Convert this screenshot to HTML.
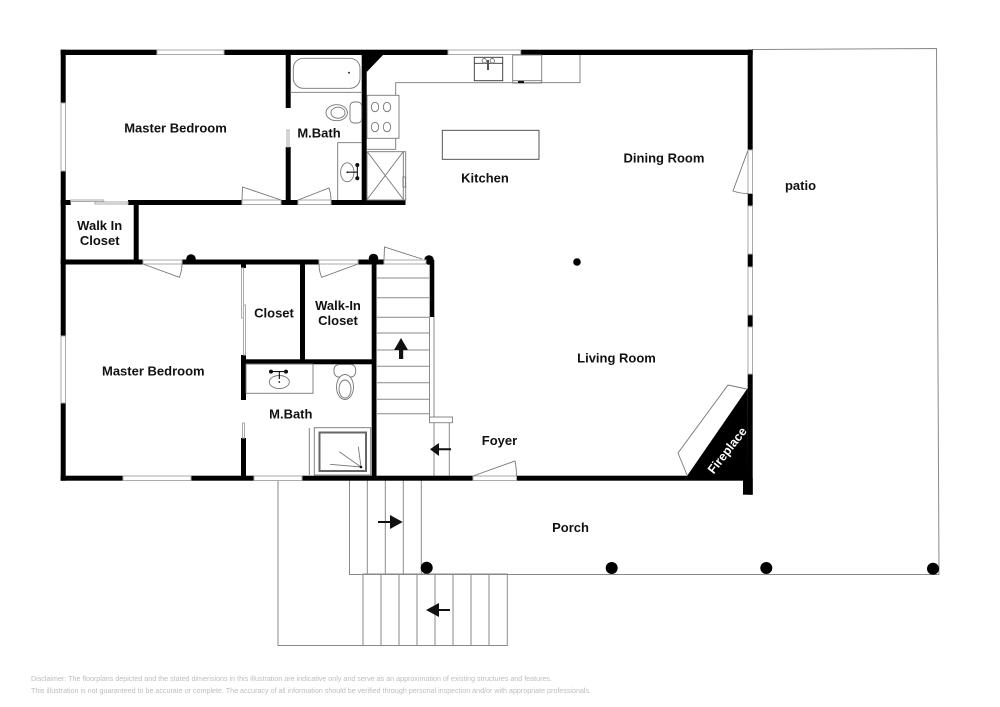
<!DOCTYPE html>
<html><head><meta charset="utf-8"><style>
html,body{margin:0;padding:0;background:#fff;width:1000px;height:707px;overflow:hidden}
svg{display:block}
text{font-family:"Liberation Sans",Arial,sans-serif}
.l text{font-weight:bold;font-size:13px;fill:#111;text-anchor:middle}
.t{fill:none;stroke:#777;stroke-width:.9}
.g{fill:none;stroke:#8a8a8a;stroke-width:1}
.w{fill:#fff;stroke:#aaa;stroke-width:1}
</style></head><body>
<svg width="1000" height="707" viewBox="0 0 1000 707" xmlns="http://www.w3.org/2000/svg">
<rect width="1000" height="707" fill="#fff"/>
<!-- exterior lines -->
<g class="g">
<path d="M752 49.5L936.5 48.5L939 574.5H349.5V480"/>
<path d="M367.3 480V574M385.3 480V574M403.3 480V574M421.3 480V574"/>
<path d="M278 480V645.5H507.3V574H363V645.5M381 574V645.5M399 574V645.5M417 574V645.5M435 574V645.5M453 574V645.5M471 574V645.5M489 574V645.5"/>
<path d="M377 278H429M377 297.7H429M377 317.3H429M377 333H429M377 350H429M377 366.3H429M377 382.7H429M377 399.3H429M377 413.7H429"/>
<path d="M429.5 317V417M434 317V417M434 423V476M449.3 423V476"/>
<rect x="429.5" y="417" width="23" height="5.7" fill="#fff"/>
</g>
<!-- walls -->
<g fill="#000">
<rect x="60.7" y="49.7" width="692" height="5.3"/>
<rect x="60.7" y="49.7" width="5" height="431"/>
<rect x="747.7" y="49.7" width="5" height="100.5"/>
<rect x="747.7" y="193.5" width="5" height="12.5"/>
<rect x="747.7" y="254" width="5" height="13"/>
<rect x="747.7" y="315" width="5" height="12"/>
<rect x="747.7" y="374" width="5" height="120.7"/>
<rect x="743" y="478" width="9.7" height="16.7"/>
<rect x="60.7" y="475.7" width="690" height="5"/>
<path d="M747.7 388L687 476H748Z"/>
<rect x="285.7" y="52" width="5" height="56"/>
<rect x="285.7" y="147" width="5" height="56"/>
<rect x="361.7" y="52" width="5" height="153"/>
<path d="M366 55H383L366.7 72Z"/>
<rect x="60.7" y="200" width="10" height="5"/>
<rect x="128" y="200" width="114" height="5"/>
<rect x="281" y="200" width="17" height="5"/>
<rect x="331" y="200" width="74.5" height="5"/>
<rect x="133.7" y="203" width="5" height="60"/>
<rect x="60.7" y="259.5" width="82.5" height="5"/>
<rect x="182" y="259.5" width="137" height="5"/>
<rect x="358" y="259.5" width="26" height="5"/>
<circle cx="191" cy="259" r="4.8"/>
<circle cx="373.5" cy="258.5" r="4.8"/>
<circle cx="429" cy="260" r="4.8"/>
<circle cx="577" cy="262" r="3.8"/>
<rect x="429.7" y="260" width="4.6" height="57"/>
<rect x="241" y="262" width="5" height="6"/>
<rect x="241" y="355" width="5" height="45"/>
<rect x="241" y="438" width="5" height="40"/>
<rect x="300" y="262" width="5" height="100"/>
<rect x="241" y="359.3" width="133" height="5"/>
<rect x="371.7" y="258" width="4.8" height="220"/>
<circle cx="426.7" cy="567.7" r="6"/>
<circle cx="611.7" cy="568" r="6"/>
<circle cx="766.3" cy="568" r="6"/>
<circle cx="933" cy="568.7" r="6"/>
</g>
<!-- windows -->
<g class="w">
<rect x="157" y="50" width="67" height="4.5"/>
<rect x="61" y="103" width="4.5" height="68"/>
<rect x="61" y="336" width="4.5" height="67"/>
<rect x="123" y="476" width="68" height="4.5"/>
<rect x="254" y="476" width="48" height="4.5"/>
<rect x="448" y="50" width="72.7" height="4.5"/>
<rect x="748" y="150" width="4.5" height="43.5"/>
<rect x="748" y="206" width="4.5" height="48"/>
<rect x="748" y="267" width="4.5" height="48"/>
<rect x="748" y="327" width="4.5" height="47"/>
<rect x="473" y="476" width="43.5" height="4.5"/>
<rect x="242" y="200" width="39" height="4.5"/>
<rect x="298" y="200" width="33" height="4.5"/>
<rect x="143" y="260" width="39" height="4"/>
<rect x="319" y="260" width="39" height="4"/>
<rect x="384" y="260" width="42" height="4"/>
<rect x="70.7" y="200" width="33" height="1.5"/>
<rect x="95" y="202" width="33" height="2"/>
<rect x="241.5" y="268" width="2" height="50"/>
<rect x="243.5" y="305" width="2" height="50"/>
<rect x="242.5" y="423" width="2" height="15"/>
<rect x="287" y="130" width="2" height="17"/>
</g>
<!-- door swings -->
<g class="t">
<path d="M242 200L242.5 187L281 200"/>
<path d="M298 200L329 188Q331 194 331 200"/>
<path d="M143 264L179.3 277.3Q182 271 182 264"/>
<path d="M358 264L321.7 277.3Q319 271 319 264"/>
<path d="M384 260L384.5 247L422 259"/>
<path d="M473 476L515 461Q516.5 468 516.5 476"/>
<path d="M747.7 151L733 191Q740 193.5 748 193.5"/>
<path d="M746.7 389L728 385L678 453L687 475"/>
</g>
<!-- master bath 1 fixtures -->
<g class="t" stroke-width=".9">
<rect x="293.3" y="58.3" width="66.7" height="30" rx="10"/>
<path d="M290 92.3H362"/>
<rect x="350" y="102" width="11.7" height="21" rx="4" fill="#fff"/>
<ellipse cx="336.7" cy="112.7" rx="10.7" ry="8" fill="#fff"/>
<ellipse cx="338" cy="112.7" rx="7" ry="5.5"/>
<path d="M337.7 200V142.7H362"/>
<ellipse cx="347.3" cy="172.3" rx="6.7" ry="9.5"/>
<!-- kitchen -->
<path d="M367 149.3H395.7V82.7H580V55"/>
<rect x="367" y="95.3" width="32" height="43" fill="#fff"/>
<ellipse cx="375" cy="107" rx="3.7" ry="4.7"/>
<ellipse cx="387" cy="107" rx="3.7" ry="4.7"/>
<ellipse cx="375" cy="127" rx="3.7" ry="4.7"/>
<ellipse cx="387" cy="127" rx="3.7" ry="4.7"/>
<rect x="474.3" y="57.3" width="28.4" height="23.4" stroke="#333"/>
<path d="M474.3 63.3H502.7" stroke="#333"/>
<circle cx="484.3" cy="60.7" r="2.2"/>
<circle cx="492.3" cy="60.7" r="2.2"/>
<path d="M488 60V70" stroke="#555" stroke-width="2"/>
<rect x="512.7" y="55" width="29" height="28"/>
<path d="M512.7 80.7H541.7"/>
<rect x="442.3" y="130.3" width="96.7" height="29" stroke="#444"/>
<rect x="367" y="151.7" width="38.7" height="48.3"/>
<path d="M403.3 152V200M367.5 152L403 199M403 152L367.5 199"/>
<rect x="403" y="177" width="2.5" height="10"/>
<!-- master bath 2 -->
<rect x="246" y="364" width="67" height="29.3"/>
<ellipse cx="279.3" cy="382" rx="10" ry="6.5"/>
<rect x="334" y="364.5" width="21.7" height="12.5" rx="5" fill="#fff"/>
<ellipse cx="345" cy="387" rx="8.5" ry="12.5" fill="#fff"/>
<ellipse cx="345" cy="389" rx="6" ry="9"/>
<rect x="314.3" y="427.7" width="56.4" height="47.3"/>
<path d="M309.3 428V475"/>
<path d="M361 467L339.3 451.7M361 467L358.3 446.7M361 467L330 464.3"/>
</g>
<rect x="319.5" y="432.5" width="46.5" height="38.5" fill="none" stroke="#666" stroke-width="2"/>
<g fill="#111" stroke="none">
<circle cx="349" cy="72.7" r=".9"/>
<circle cx="347.3" cy="172.3" r=".9"/>
<circle cx="357.3" cy="165" r="2"/>
<circle cx="357.3" cy="178.3" r="2"/>
<rect x="347" y="171.6" width="10" height="1.1"/>
<rect x="356.8" y="165" width="1.1" height="13"/>
<circle cx="271" cy="371.6" r="2"/>
<circle cx="286" cy="371.6" r="2"/>
<rect x="271" y="371" width="15" height="1.1"/>
<rect x="278.8" y="371" width="1.1" height="8"/>
<circle cx="279.3" cy="382" r=".9"/>
<circle cx="361" cy="467" r="1.3"/>
<rect x="518" y="81" width="6" height="2.2"/>
</g>
<!-- arrows -->
<g fill="#111">
<path d="M401 338L408 350H403.2V359H399V350H394Z" stroke="none"/>
<path d="M430 449.3L439 443V448.3H451V450.3H439V456Z"/>
<path d="M402.7 522L390 515V521H378V523H390V529Z"/>
<path d="M426 610L439 603V609H450V611H439V617Z"/>
</g>
<!-- labels -->
<g class="l">
<text x="175.5" y="132.5">Master Bedroom</text>
<text x="319" y="137.7">M.Bath</text>
<text x="99.7" y="230">Walk In</text>
<text x="99.7" y="245">Closet</text>
<text x="153.3" y="375.3">Master Bedroom</text>
<text x="274" y="317.7">Closet</text>
<text x="338" y="310">Walk-In</text>
<text x="338" y="325">Closet</text>
<text x="290.8" y="418.7">M.Bath</text>
<text x="485" y="182.3">Kitchen</text>
<text x="664" y="162.5">Dining Room</text>
<text x="616.5" y="362.5">Living Room</text>
<text x="499.5" y="445">Foyer</text>
<text x="570.5" y="532">Porch</text>
<text x="800.5" y="190">patio</text>
</g>
<text transform="translate(730.5 453) rotate(-52)" text-anchor="middle" font-size="12.5" font-weight="bold" fill="#fff" style="font-family:'Liberation Sans',sans-serif">Fireplace</text>
<g font-size="7" fill="#bdbdbd">
<text x="31" y="681" textLength="521" lengthAdjust="spacingAndGlyphs">Disclaimer: The floorplans depicted and the stated dimensions in this illustration are indicative only and serve as an approximation of existing structures and features.</text>
<text x="31" y="693" textLength="560" lengthAdjust="spacingAndGlyphs">This illustration is not guaranteed to be accurate or complete. The accuracy of all information should be verified through personal inspection and/or with appropriate professionals.</text>
</g>
</svg>
</body></html>
